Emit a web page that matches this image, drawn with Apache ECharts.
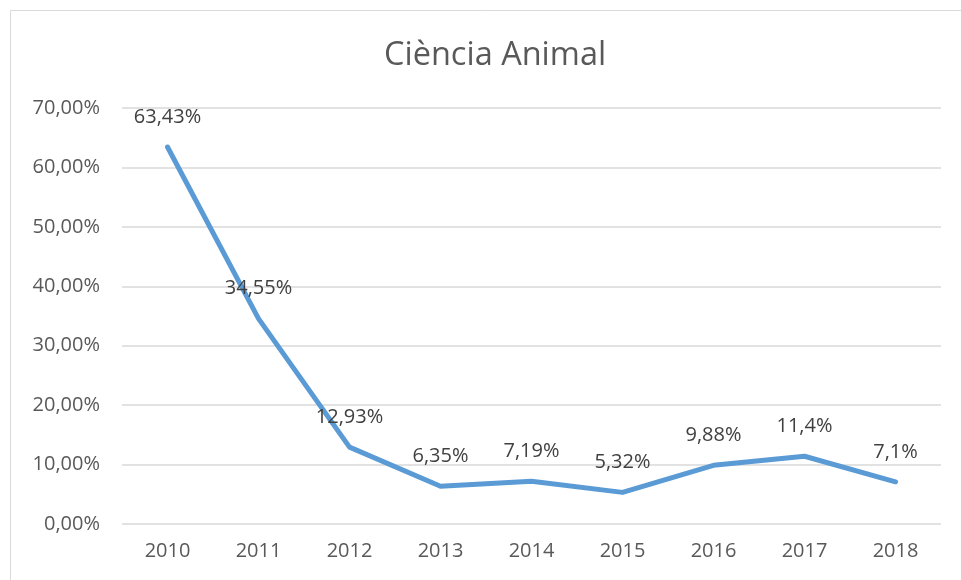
<!DOCTYPE html>
<html>
<head>
<meta charset="utf-8">
<script src="https://cdn.jsdelivr.net/npm/echarts@6/dist/echarts.min.js"></script>
<style>
  html, body { margin: 0; padding: 0; background: #fff; }
  #chart { width: 961px; height: 580px; }
</style>
</head>
<body>
<div id="chart"></div>
<script>
  var years = ['2010', '2011', '2012', '2013', '2014', '2015', '2016', '2017', '2018'];
  var values = [63.43, 34.55, 12.93, 6.35, 7.19, 5.32, 9.88, 11.4, 7.1];
  var labelTexts = ['63,43%', '34,55%', '12,93%', '6,35%', '7,19%', '5,32%', '9,88%', '11,4%', '7,1%'];

  var font = '"Open Sans", "Noto Sans", sans-serif';
  var myChart = echarts.init(document.getElementById('chart'));
  var option = {
    backgroundColor: '#fff',
    animation: false,
    // title sits a bit right of centre, like the original frame
    title: {
      text: 'Ciència Animal',
      left: 379,
      top: 34,
      textStyle: { fontFamily: font, fontSize: 32.5, fontWeight: 'normal', color: '#595959' }
    },
    graphic: [{
      type: 'rect',
      shape: { x: 10.5, y: 10.5, width: 980, height: 600 },
      style: { fill: 'none', stroke: '#d9d9d9', lineWidth: 1 },
      silent: true
    }],
    grid: { left: 122, right: 20, top: 108, bottom: 56 },
    xAxis: {
      type: 'category',
      data: years,
      axisLine: { show: false },
      axisTick: { show: false },
      axisLabel: { fontFamily: font, fontSize: 20, color: '#595959', margin: 17 }
    },
    yAxis: {
      type: 'value',
      min: 0,
      max: 70,
      interval: 10,
      axisLine: { show: false },
      axisTick: { show: false },
      splitLine: { lineStyle: { color: '#d9d9d9', width: 1.5 } },
      axisLabel: {
        fontFamily: font, fontSize: 20, color: '#595959', margin: 22,
        formatter: function (v) { return v.toFixed(2).replace('.', ',') + '%'; }
      }
    },
    series: [{
      type: 'line',
      data: values,
      symbol: 'circle',
      symbolSize: 0,
      lineStyle: { color: '#5b9bd5', width: 5, cap: 'round', join: 'round' },
      itemStyle: { color: '#5b9bd5' },
      label: {
        show: true,
        position: 'top',
        distance: 20,
        fontFamily: font,
        fontSize: 20,
        color: '#404040',
        formatter: function (p) { return labelTexts[p.dataIndex]; }
      }
    }]
  };
  myChart.setOption(option);
</script>
</body>
</html>
